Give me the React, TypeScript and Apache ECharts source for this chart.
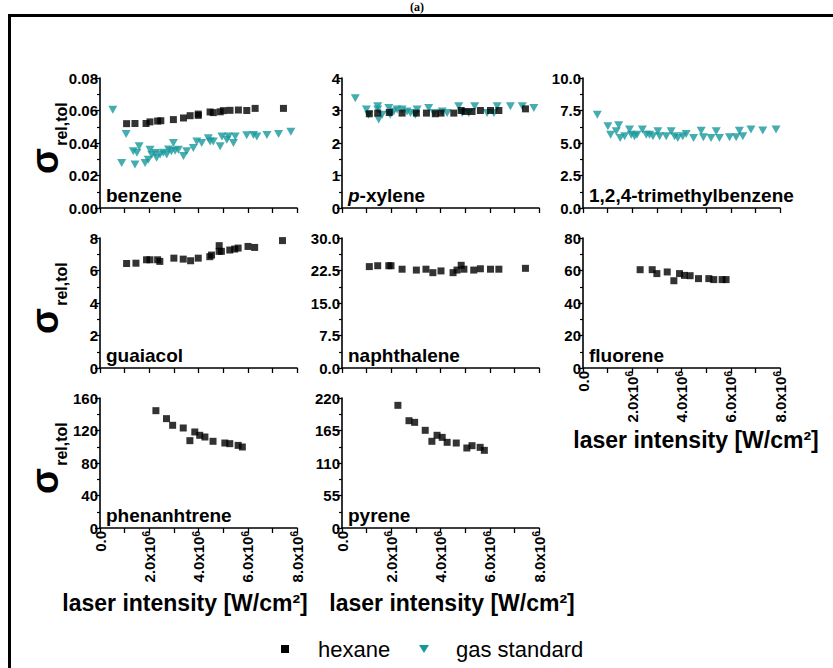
import React, { useEffect, useRef } from 'react';
import * as echarts from 'echarts';

// ---------- data (x in W/cm², y = sigma rel,tol) ----------
const benzeneHexane: number[][] = [
  [1.08e6, 0.0519], [1.42e6, 0.052], [1.87e6, 0.052], [2.03e6, 0.053], [2.34e6, 0.0535],
  [2.47e6, 0.0537], [2.98e6, 0.0544], [3.39e6, 0.0554], [3.66e6, 0.0568], [3.99e6, 0.0578],
  [3.99e6, 0.057], [4.47e6, 0.0591], [4.6e6, 0.0587], [4.88e6, 0.0592], [5.01e6, 0.0599],
  [5.28e6, 0.0601], [5.62e6, 0.0603], [5.96e6, 0.06], [6.3e6, 0.0613], [7.45e6, 0.0613],
];
const benzeneGas: number[][] = [
  [0.52e6, 0.0605], [1.06e6, 0.0455], [0.88e6, 0.0277], [1.42e6, 0.0267], [1.35e6, 0.035],
  [1.5e6, 0.034], [1.59e6, 0.038], [1.83e6, 0.0277], [1.96e6, 0.0297], [2.03e6, 0.0359],
  [2.1e6, 0.0328], [2.24e6, 0.0338], [2.3e6, 0.031], [2.44e6, 0.033], [2.57e6, 0.034],
  [2.71e6, 0.033], [2.78e6, 0.036], [2.9e6, 0.035], [2.98e6, 0.04], [3.05e6, 0.0353],
  [3.18e6, 0.0359], [3.39e6, 0.032], [3.52e6, 0.035], [3.79e6, 0.037], [3.93e6, 0.041],
  [4.13e6, 0.04], [4.4e6, 0.043], [4.47e6, 0.041], [4.6e6, 0.041], [4.88e6, 0.038],
  [4.95e6, 0.044], [5.22e6, 0.044], [5.15e6, 0.042], [5.42e6, 0.04], [5.49e6, 0.044],
  [5.96e6, 0.0447], [6.23e6, 0.045], [6.37e6, 0.044], [6.78e6, 0.045], [7.25e6, 0.0455],
  [7.75e6, 0.047],
];
const xyleneHexane: number[][] = [
  [1.11e6, 2.9], [1.45e6, 2.92], [1.92e6, 2.94], [2.44e6, 2.92], [3.02e6, 2.92],
  [3.43e6, 2.92], [3.79e6, 2.9], [4.02e6, 2.92], [4.54e6, 2.92], [4.84e6, 3.0],
  [5.01e6, 2.97], [5.28e6, 2.97], [5.62e6, 3.0], [6.03e6, 3.0], [6.37e6, 3.0], [7.45e6, 3.05],
];
const xyleneGas: number[][] = [
  [0.54e6, 3.38], [0.99e6, 3.03], [1.08e6, 2.87], [1.45e6, 3.03], [1.49e6, 2.72],
  [1.45e6, 3.13], [1.63e6, 2.87], [1.9e6, 3.08], [1.96e6, 2.87], [2.1e6, 2.97],
  [2.24e6, 3.03], [2.44e6, 3.03], [2.64e6, 2.97], [2.78e6, 2.92], [2.98e6, 2.87],
  [3.05e6, 3.03], [3.52e6, 3.08], [3.73e6, 2.92], [4.07e6, 2.97], [4.27e6, 2.92],
  [4.74e6, 3.13], [4.88e6, 2.92], [5.15e6, 2.92], [5.39e6, 3.13], [5.89e6, 2.92],
  [6.17e6, 2.92], [6.3e6, 3.13], [6.84e6, 3.13], [7.32e6, 3.13], [7.79e6, 3.08],
];
const tmbGas: number[][] = [
  [0.58e6, 7.18], [1.01e6, 6.28], [1.12e6, 5.64], [1.35e6, 5.9], [1.45e6, 6.36],
  [1.51e6, 5.38], [1.69e6, 5.51], [1.89e6, 6.03], [1.96e6, 5.64], [2.09e6, 5.51],
  [2.19e6, 5.64], [2.41e6, 6.03], [2.57e6, 5.64], [2.7e6, 5.64], [2.84e6, 5.51],
  [3.04e6, 5.9], [3.11e6, 5.51], [3.38e6, 5.51], [3.58e6, 5.9], [3.72e6, 5.51],
  [3.85e6, 5.38], [4.05e6, 5.51], [4.19e6, 5.69], [4.49e6, 5.38], [4.8e6, 5.95],
  [4.89e6, 5.44], [5.2e6, 5.38], [5.41e6, 5.9], [5.54e6, 5.38], [5.95e6, 5.44],
  [6.22e6, 5.44], [6.35e6, 5.95], [6.49e6, 5.51], [6.82e6, 6.03], [7.3e6, 5.97], [7.84e6, 6.03],
];
const guaiacolHexane: number[][] = [
  [1.08e6, 6.43], [1.46e6, 6.45], [1.89e6, 6.66], [2.03e6, 6.66], [2.34e6, 6.66],
  [2.43e6, 6.56], [3.0e6, 6.76], [3.38e6, 6.7], [3.68e6, 6.6], [3.99e6, 6.76],
  [4.46e6, 6.85], [4.53e6, 6.95], [4.84e6, 7.53], [4.84e6, 7.18], [4.93e6, 7.18],
  [5.27e6, 7.26], [5.47e6, 7.32], [5.61e6, 7.38], [6.01e6, 7.48], [6.28e6, 7.42], [7.41e6, 7.84],
];
const naphthaleneHexane: number[][] = [
  [1.11e6, 23.4], [1.45e6, 23.6], [1.9e6, 23.6], [1.99e6, 23.6], [2.44e6, 22.8],
  [3.02e6, 22.6], [3.41e6, 22.8], [3.69e6, 22.0], [4.02e6, 22.4], [4.51e6, 22.0],
  [4.67e6, 22.6], [4.84e6, 23.7], [4.95e6, 22.8], [5.35e6, 22.6], [5.62e6, 22.9],
  [6.03e6, 22.8], [6.37e6, 22.8], [7.45e6, 23.0],
];
const fluoreneHexane: number[][] = [
  [2.32e6, 60.5], [2.81e6, 60.5], [3.0e6, 58.1], [3.42e6, 59.1], [3.69e6, 53.7],
  [3.92e6, 58.1], [4.12e6, 57.0], [4.35e6, 56.8], [4.69e6, 55.0], [5.11e6, 55.0],
  [5.31e6, 54.4], [5.65e6, 54.4], [5.81e6, 54.4],
];
const phenanthreneHexane: number[][] = [
  [2.27e6, 144.4], [2.7e6, 134.6], [2.95e6, 126.4], [3.38e6, 123.1], [3.65e6, 107.5],
  [3.85e6, 118.2], [4.05e6, 114.1], [4.26e6, 112.0], [4.59e6, 106.7], [5.07e6, 104.6],
  [5.27e6, 103.8], [5.61e6, 101.7], [5.78e6, 99.7],
];
const pyreneHexane: number[][] = [
  [2.27e6, 207.6], [2.72e6, 181.6], [2.95e6, 178.8], [3.38e6, 165.3], [3.65e6, 146.7],
  [3.86e6, 156.9], [4.07e6, 153.4], [4.27e6, 145.0], [4.64e6, 143.8], [5.07e6, 135.4],
  [5.28e6, 139.3], [5.61e6, 136.5], [5.78e6, 131.4],
];

const panelNames = ['benzene', 'p-xylene', '1,2,4-trimethylbenzene', 'guaiacol', 'naphthalene', 'fluorene', 'phenanhtrene', 'pyrene'];
const hexaneSets: (number[][] | null)[] = [benzeneHexane, xyleneHexane, null, guaiacolHexane, naphthaleneHexane, fluoreneHexane, phenanthreneHexane, pyreneHexane];
const gasSets: (number[][] | null)[] = [benzeneGas, xyleneGas, tmbGas, null, null, null, null, null];
const yMaxes = [0.08, 4, 10, 8, 30, 80, 160, 220];
const yIntervals = [0.02, 1, 2.5, 2, 7.5, 20, 40, 55];
const yDecimals = [2, 0, 1, 0, 1, 0, 0, 0];
const xMax = 8e6;
const xInterval = 1e6;
const xLabelEvery = 2e6;
const showXLabels = [false, false, false, false, false, true, true, true];

// ---------- layout ----------
const COL_LEFT = [100, 342, 583];
const ROW_TOP = [78, 238, 398];
const GW = 197;
const GH = 130;
const FONT = '"Liberation Sans", Arial, Helvetica, sans-serif';
const TEAL = '#17999b';

export default function App() {
  const ref = useRef<HTMLDivElement>(null);
  useEffect(() => {
    if (!ref.current) return;
    const chart = echarts.init(ref.current, undefined, { renderer: 'svg' });

    const grids: any[] = [];
    const xAxes: any[] = [];
    const yAxes: any[] = [];
    const series: any[] = [];
    const graphics: any[] = [];

    panelNames.forEach((name, i) => {
      const col = i % 3;
      const row = Math.floor(i / 3);
      const left = COL_LEFT[col];
      const top = ROW_TOP[row];
      grids.push({ left, top, width: GW, height: GH, containLabel: false });
      xAxes.push({
        type: 'value', gridIndex: i, min: 0, max: xMax, interval: xInterval,
        axisLine: { lineStyle: { color: '#000', width: 1.6 } },
        axisTick: { show: true, length: 5, lineStyle: { color: '#000', width: 1.3 } },
        splitLine: { show: false },
        axisLabel: {
          show: showXLabels[i], rotate: 90, margin: 3, color: '#000',
          fontFamily: FONT, fontWeight: 'bold', fontSize: 15,
          formatter: (v: number) => {
            if (v === 0) return '{a|0.0}';
            if (Math.abs(v % xLabelEvery) > 1) return '';
            return `{a|${(v / 1e6).toFixed(1)}x10}{s|6}`;
          },
          rich: {
            a: { fontFamily: FONT, fontWeight: 'bold', fontSize: 15, color: '#000' },
            s: { fontFamily: FONT, fontWeight: 'bold', fontSize: 10, color: '#000', verticalAlign: 'top' },
          },
        },
      });
      yAxes.push({
        type: 'value', gridIndex: i, min: 0, max: yMaxes[i], interval: yIntervals[i],
        axisLine: { show: true, lineStyle: { color: '#000', width: 1.6 } },
        axisTick: { show: true, length: 5, lineStyle: { color: '#000', width: 1.3 } },
        minorTick: { show: true, splitNumber: 2, length: 3, lineStyle: { color: '#000', width: 1.2 } },
        splitLine: { show: false },
        axisLabel: {
          margin: 2, color: '#000', fontFamily: FONT, fontWeight: 'bold', fontSize: 15,
          formatter: (v: number) => v.toFixed(yDecimals[i]),
        },
      });
      const gas = gasSets[i];
      if (gas) {
        series.push({
          type: 'scatter', name: 'gas standard', xAxisIndex: i, yAxisIndex: i, data: gas,
          symbol: 'triangle', symbolRotate: 180, symbolSize: [9, 8],
          itemStyle: { color: TEAL }, silent: true,
        });
      }
      const hex = hexaneSets[i];
      if (hex) {
        series.push({
          type: 'scatter', name: 'hexane', xAxisIndex: i, yAxisIndex: i, data: hex,
          symbol: 'rect', symbolSize: 7, itemStyle: { color: '#000' }, silent: true,
        });
      }
      // panel name
      graphics.push({
        type: 'text', x: left + 6, y: top + GH - 13,
        style: name === 'p-xylene'
          ? {
              text: '{i|p}{b|-xylene}', verticalAlign: 'middle', align: 'left',
              rich: {
                i: { fontFamily: FONT, fontWeight: 'bold', fontStyle: 'italic', fontSize: 19, fill: '#000' },
                b: { fontFamily: FONT, fontWeight: 'bold', fontSize: 19, fill: '#000' },
              },
            }
          : { text: name, fontFamily: FONT, fontWeight: 'bold', fontSize: 19, fill: '#000', verticalAlign: 'middle', align: 'left' },
      });
    });

    // sigma rel,tol labels
    ROW_TOP.forEach((top) => {
      const c = top + GH / 2;
      graphics.push({
        type: 'text', x: 45, y: c + 18, rotation: Math.PI / 2,
        style: { text: 'σ', fontFamily: FONT, fontWeight: 'bold', fontSize: 38, fill: '#000', align: 'center', verticalAlign: 'middle' },
      });
      graphics.push({
        type: 'text', x: 61, y: c - 19, rotation: Math.PI / 2,
        style: { text: 'rel,tol', fontFamily: FONT, fontWeight: 'bold', fontSize: 16, fill: '#000', align: 'center', verticalAlign: 'middle' },
      });
    });

    // x-axis titles
    const titleStyle = { text: 'laser intensity [W/cm²]', fontFamily: FONT, fontWeight: 'bold', fontSize: 23, fill: '#000', align: 'center', verticalAlign: 'middle' };
    [[696, 440], [185, 603], [452, 603]].forEach(([x, y]) => {
      graphics.push({ type: 'text', x, y, style: { ...titleStyle } });
    });

    // frame and heading
    graphics.push({
      type: 'rect', shape: { x: 9.5, y: 15.5, width: 900, height: 700 },
      style: { fill: 'none', stroke: '#000', lineWidth: 3 }, z: -1,
    });
    graphics.push({
      type: 'text', x: 417, y: 1,
      style: { text: '(a)', fontFamily: '"Liberation Serif", "Times New Roman", serif', fontWeight: 'bold', fontSize: 12, fill: '#000', align: 'center', verticalAlign: 'top' },
    });

    // legend
    graphics.push({ type: 'rect', shape: { x: 281, y: 645, width: 8, height: 8 }, style: { fill: '#000' } });
    graphics.push({ type: 'text', x: 318, y: 649, style: { text: 'hexane', fontFamily: FONT, fontSize: 22, fill: '#000', align: 'left', verticalAlign: 'middle' } });
    graphics.push({ type: 'polygon', shape: { points: [[419, 645], [429, 645], [424, 653]] }, style: { fill: TEAL } });
    graphics.push({ type: 'text', x: 456, y: 649, style: { text: 'gas standard', fontFamily: FONT, fontSize: 22, fill: '#000', align: 'left', verticalAlign: 'middle' } });

    chart.setOption({
      animation: false,
      backgroundColor: '#fff',
      grid: grids,
      xAxis: xAxes,
      yAxis: yAxes,
      series,
      graphic: graphics,
    });
    return () => chart.dispose();
  }, []);
  return <div ref={ref} style={{ position: 'fixed', left: 0, top: 0, width: 833, height: 668 }} />;
}
